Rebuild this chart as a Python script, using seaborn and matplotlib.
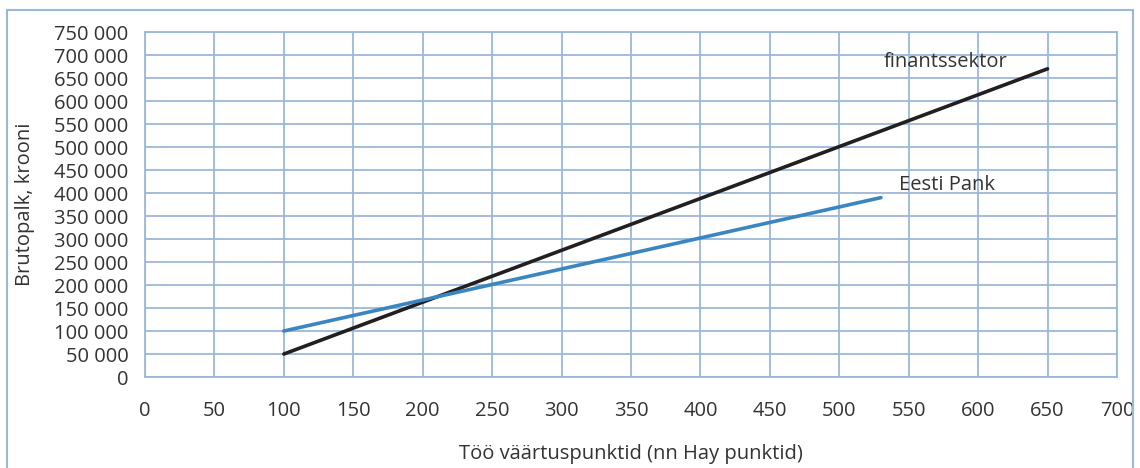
import seaborn as sns
import matplotlib.pyplot as plt
from matplotlib.patches import Rectangle
from matplotlib.ticker import FuncFormatter, MultipleLocator
import pandas as pd

# data
fin_points = [100, 650]
fin_salary = [50000, 670000]
ep_points = [100, 530]
ep_salary = [100000, 390000]
series_names = ["finantssektor", "Eesti Pank"]

df = pd.concat([
    pd.DataFrame({"punktid": fin_points, "palk": fin_salary, "seeria": series_names[0]}),
    pd.DataFrame({"punktid": ep_points, "palk": ep_salary, "seeria": series_names[1]}),
])

sns.set_style("white")
plt.rcParams['font.family'] = ['Open Sans', 'DejaVu Sans']
grid_c = "#9bb7d9"
text_c = "#333333"
fs = 14.5

fig = plt.figure(figsize=(11.4, 4.68), dpi=100)
ax = fig.add_axes([0.1272, 0.1944, 0.8526, 0.7372])

sns.lineplot(data=df, x="punktid", y="palk", hue="seeria", ax=ax,
             palette={"finantssektor": "#231f20", "Eesti Pank": "#3a86c1"},
             linewidth=2.6, legend=False, estimator=None, sort=False)

ax.set_xlim(0, 700)
ax.set_ylim(0, 750000)
ax.xaxis.set_major_locator(MultipleLocator(50))
ax.yaxis.set_major_locator(MultipleLocator(50000))
ax.yaxis.set_major_formatter(FuncFormatter(lambda v, p: f"{int(v):,}".replace(",", " ")))
ax.grid(True, color=grid_c, linewidth=1.3)
ax.set_axisbelow(True)
for s in ax.spines.values():
    s.set_color(grid_c)
    s.set_linewidth(1.3)
ax.tick_params(axis="both", colors=grid_c, labelcolor=text_c, labelsize=fs,
               length=5, width=1.3, direction="out")
ax.tick_params(axis="x", pad=12)
ax.tick_params(axis="y", pad=7)

ax.set_xlabel("Töö väärtuspunktid (nn Hay punktid)", fontsize=fs, color=text_c, labelpad=17)
ax.set_ylabel("Brutopalk, krooni", fontsize=fs, color=text_c, labelpad=14)

ax.text(621, 685000, series_names[0], fontsize=fs, color=text_c, ha="right", va="center")
ax.text(543, 417000, series_names[1], fontsize=fs, color=text_c, ha="left", va="center")

# outer frame
fig.patches.append(Rectangle((7 / 1140, -0.05), 1126 / 1140, 1.05 - 10 / 468,
                             transform=fig.transFigure, fill=False,
                             edgecolor=grid_c, linewidth=1.5))

fig.savefig("out.png", dpi=100)
